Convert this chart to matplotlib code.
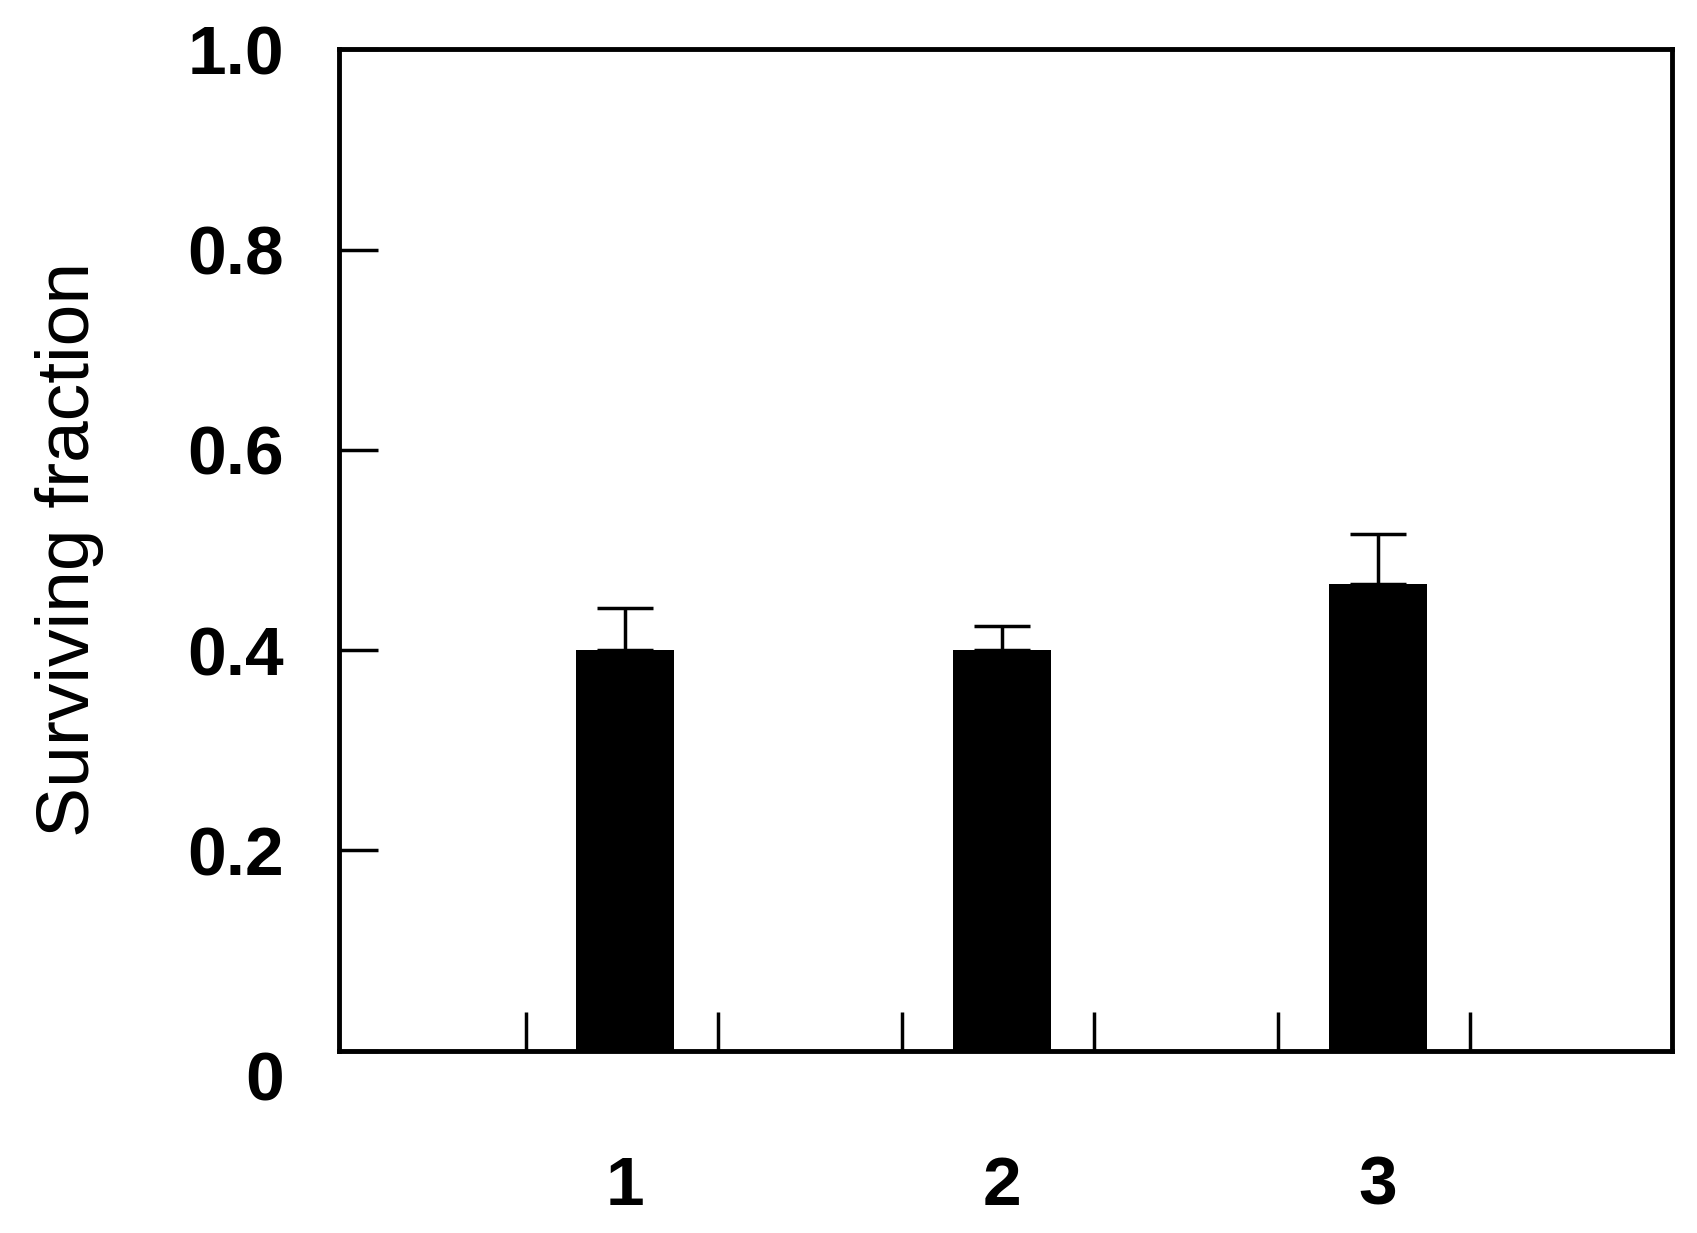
import matplotlib.pyplot as plt

plt.rcParams['font.family'] = ['Liberation Sans', 'DejaVu Sans']
plt.rcParams['font.weight'] = 'bold'

groups = [1, 2, 3]
values = [0.40, 0.40, 0.466]
errors = [0.042, 0.024, 0.050]
yticks = [0, 0.2, 0.4, 0.6, 0.8, 1.0]
ytick_labels = ['0', '0.2', '0.4', '0.6', '0.8', '1.0']

fig = plt.figure(figsize=(16.97, 12.33), dpi=100)
ax = fig.add_axes([0.2, 0.148, 0.785, 0.812])

ax.bar(groups, values, width=0.26, color='black', zorder=2)
ax.errorbar(groups, values, yerr=[[0] * 3, errors], fmt='none', ecolor='black',
            elinewidth=2.5, capsize=20, capthick=2.5, zorder=3)

ax.set_xlim(0.24, 3.78)
ax.set_ylim(0, 1.0)
ax.set_xticks(groups)
ax.set_xticklabels([str(g) for g in groups])
minor = [g + d for g in groups for d in (-0.265, 0.245)]
ax.set_xticks(minor, minor=True)
ax.tick_params(axis='x', which='major', length=0, pad=75, labelsize=50)
ax.tick_params(axis='x', which='minor', direction='in', length=28, width=2.5)
ax.set_yticks(yticks)
ax.set_yticklabels(ytick_labels)
ax.tick_params(axis='y', direction='in', length=28, width=2.5, pad=40, labelsize=50)
for lab in ax.get_yticklabels():
    if lab.get_text() == '0':
        lab.set_va('top')
for s in ax.spines.values():
    s.set_linewidth(3.5)

ax.set_ylabel('Surviving fraction', fontsize=54, labelpad=60)

fig.savefig('out.png', dpi=100)
